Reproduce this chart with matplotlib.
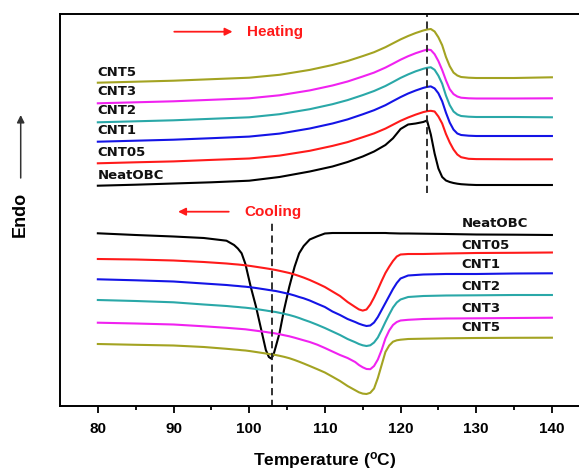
import matplotlib
matplotlib.use("Agg")
import matplotlib.pyplot as plt

plt.rcParams['font.family'] = ['Liberation Sans', 'DejaVu Sans']
plt.rcParams['mathtext.default'] = 'regular'

# ---------------- data (arbitrary heat-flow units, endo up) ----------------
T_heat = [80, 85, 90, 95, 100, 104, 108, 111, 113, 115, 116.5, 118, 119, 120, 121,
          122, 123, 123.5, 124, 124.5, 125, 125.5, 126, 126.5, 127, 127.5, 128, 129,
          130, 135, 140]

heat_neat = [221.3, 222.3, 223.5, 224.7, 226.3, 230, 235.5, 240.5, 245, 250.5, 255.5,
             262, 268.7, 278, 282.5, 283.5, 285, 286.5, 272.5, 253.5, 238.5, 230, 226.5,
             225, 224, 223.3, 222.8, 222.3, 222, 222, 222]
heat_cnt05 = [243.7, 244.7, 245.6, 247.1, 248.5, 251.4, 256.2, 261.1, 264.9, 269.8, 273.6,
              278.4, 282.3, 286.2, 289.5, 292.4, 294.9, 295.8, 296.2, 295.5, 290.5, 283.5,
              273, 264.5, 257.5, 252.5, 249.8, 248.2, 247.9, 247.7, 247.7]
heat_cnt1 = [265.3, 266.3, 267.3, 268.8, 270.4, 273.4, 278.5, 283.5, 287.6, 292.7, 296.8,
             301.8, 305.9, 309.9, 313.5, 316.5, 319.1, 320.1, 320.6, 318.6, 313.7, 305.7,
             294.3, 284.4, 277.4, 273.5, 272, 271.3, 271, 271, 271]
heat_cnt2 = [284.7, 285.7, 286.7, 288.2, 289.7, 292.8, 297.8, 302.8, 306.9, 311.9, 316,
             321, 325, 329.1, 332.6, 335.7, 338.2, 339.2, 339.7, 337.2, 331.3, 323.3,
             311.4, 301.9, 295.5, 292.5, 291, 290.3, 290, 290, 289.7]
heat_cnt3 = [303.7, 304.7, 305.7, 307.2, 308.7, 311.7, 316.6, 321.5, 325.5, 330.5, 334.4,
             339.4, 343.3, 347.3, 350.8, 353.8, 356.3, 357.4, 357, 352.8, 345.9, 337,
             326.7, 317.8, 312.9, 310.5, 309.3, 308.7, 308.5, 308.5, 308.7]
heat_cnt5 = [324.3, 325.3, 326.3, 327.8, 329.3, 332.2, 337.1, 342, 346, 350.9, 354.8,
             359.8, 363.7, 367.6, 371, 374, 376.5, 377.5, 378, 375.5, 369.7, 361.8,
             350, 340.8, 334.4, 331.5, 330, 329.3, 329, 329, 329.7]

T_cool = [80, 85, 90, 94, 97, 98, 98.5, 99, 99.5, 100.2, 100.9, 101.5, 102.2, 102.6,
          102.9, 103.2, 103.5, 104, 104.6, 105.3, 106, 106.6, 107.2, 108, 109, 110, 111,
          112, 113, 114, 114.5, 115, 115.5, 116, 116.5, 117, 117.5, 118, 118.5, 119,
          119.5, 120, 121, 123, 126, 130, 135, 140]

cool_neat = [173.7, 172, 170.5, 169, 166.3, 162, 158.5, 153.7, 143, 120.3, 100.3, 80.3,
             57, 50, 48.5, 52, 60, 73.7, 97, 120.3, 140.3, 153.7, 161, 167.5, 170.7,
             173.5, 174, 174, 174, 174, 174, 174, 174, 174, 174, 174, 174, 174, 173.8,
             173.7, 173.6, 173.5, 173.5, 173.3, 173, 172.5, 172.3, 172]
cool_cnt05 = [148, 147.5, 146.5, 145, 143.5, 142.8, 142.5, 142.1, 141.7, 141, 140.2, 139.5,
              138.7, 138.2, 137.8, 137.4, 137, 136.2, 135.2, 134, 132.5, 131, 129.4, 127,
              123.6, 120, 115.5, 111, 105, 100, 97.6, 96.4, 97.5, 102.5, 109.5, 117.5, 126,
              134, 140.3, 146, 150.5, 152.5, 153, 153, 153.5, 154, 154.2, 154.5]
cool_cnt1 = [127.7, 126.7, 125.5, 123.5, 122, 121.3, 121, 120.6, 120.3, 119.7, 119, 118.3,
             117.5, 117, 116.7, 116.3, 116, 115.2, 114.2, 113, 111.5, 110, 108.7, 106.5,
             103.2, 100, 95.5, 92, 88, 85, 83.3, 82, 81, 81.5, 84.5, 90, 97, 104, 111,
             118, 124, 128.5, 131.5, 132.5, 133, 133, 133.5, 133.7]
cool_cnt2 = [107, 106, 104.7, 102.5, 101, 100.3, 100, 99.6, 99.3, 98.7, 98, 97.3,
             96.5, 96, 95.7, 95.3, 95, 94.2, 93.2, 92, 90.5, 89, 87.3, 85.2,
             82.2, 79, 75.5, 72, 68, 64.8, 63, 61.7, 61, 61.7, 64.5, 69.5, 77, 85,
             92.5, 99.5, 104.5, 107.5, 110, 111, 111.5, 111.7, 112, 112]
cool_cnt3 = [84.3, 83.5, 82.5, 80.7, 79.2, 78.6, 78.3, 78, 77.7, 77, 76.3, 75.7,
             75, 74.5, 74.2, 73.9, 73.5, 72.8, 71.8, 70.7, 69.3, 68, 66.7, 65,
             62.3, 59, 55.5, 52, 49, 45, 42, 39.7, 38, 37.8, 41, 47.5, 57, 68.5,
             76.5, 82, 85, 86.5, 87.2, 88, 88.5, 88.7, 89, 89.3]
cool_cnt5 = [63, 62.2, 61.5, 60, 58.2, 57.5, 57.2, 56.8, 56.5, 55.8, 55, 54.3,
             53.5, 53, 52.7, 52.4, 52, 51.2, 50.2, 48.8, 47, 45.3, 43.5, 41,
             37.8, 34.5, 30.3, 26, 21, 16.8, 14.7, 13.4, 13, 14.2, 18.5, 29, 42, 55,
             61.5, 65.3, 66.7, 67.3, 68, 68.3, 68.7, 69, 69.2, 69.3]

sample_names = ['NeatOBC', 'CNT05', 'CNT1', 'CNT2', 'CNT3', 'CNT5']
colors = ['#000000', '#ff1a1a', '#1414e6', '#2aa8a8', '#f022f0', '#a3a322']

heat_series = [heat_neat, heat_cnt05, heat_cnt1, heat_cnt2, heat_cnt3, heat_cnt5]
cool_series = [cool_neat, cool_cnt05, cool_cnt1, cool_cnt2, cool_cnt3, cool_cnt5]

heat_label_y = [231.3, 254.7, 276.3, 297, 315.3, 335]
cool_label_y = [183.5, 161.5, 142, 120.5, 99, 79.5]

T_heat_peak = 123.5
T_cool_peak = 103
xticks = [80, 90, 100, 110, 120, 130, 140]

# ---------------- figure ----------------
fig = plt.figure(figsize=(5.79, 4.70), dpi=100)
ax = fig.add_axes([60 / 579, 64.5 / 470, 529.75 / 579, 391.5 / 470])

for ys, c in zip(heat_series, colors):
    ax.plot(T_heat, ys, color=c, lw=1.5, solid_joinstyle='round')
for ys, c in zip(cool_series, colors):
    ax.plot(T_cool, ys, color=c, lw=1.5, solid_joinstyle='round')

lab_font = dict(family=['DejaVu Sans'], fontsize=9.5, fontweight='bold', color='#111111')
for name, yl in zip(sample_names, heat_label_y):
    ax.text(80, yl, name, ha='left', va='center', **lab_font)
for name, yl in zip(sample_names, cool_label_y):
    ax.text(128.1, yl, name, ha='left', va='center', **lab_font)

# dashed peak markers
ax.plot([T_heat_peak, T_heat_peak], [214, 393], color='#222222', lw=1.3,
        ls=(0, (4, 2.5)))
ax.plot([T_cool_peak, T_cool_peak], [0, 187], color='#222222', lw=1.3,
        ls=(0, (4, 2.5)))

# heating / cooling arrows
ax.annotate('', xy=(97.8, 375.3), xytext=(90.1, 375.3),
            arrowprops=dict(arrowstyle='-|>', color='#ff1a1a', lw=1.3,
                            mutation_scale=11, shrinkA=0, shrinkB=0))
ax.text(99.7, 375.3, 'Heating', color='#ff1a1a', fontsize=11, fontweight='bold',
        ha='left', va='center')
ax.annotate('', xy=(90.6, 195.3), xytext=(97.3, 195.3),
            arrowprops=dict(arrowstyle='-|>', color='#ff1a1a', lw=1.3,
                            mutation_scale=11, shrinkA=0, shrinkB=0))
ax.text(99.4, 195.3, 'Cooling', color='#ff1a1a', fontsize=11, fontweight='bold',
        ha='left', va='center')

ax.set_xlim(75, 145)
ax.set_ylim(1.5, 393)
ax.set_xticks(xticks)
ax.set_xticks([85, 95, 105, 115, 125, 135, 145], minor=True)
ax.set_yticks([])
ax.tick_params(axis='x', which='major', direction='out', length=5, width=1.3,
               labelsize=11, pad=7)
ax.tick_params(axis='x', which='minor', direction='out', length=3, width=1.3)
for lab in ax.get_xticklabels():
    lab.set_fontweight('bold')
for s in ['left', 'top', 'bottom']:
    ax.spines[s].set_linewidth(1.4)
ax.spines['right'].set_visible(False)

ax.set_xlabel(r'Temperature ($^{o}$C)', fontsize=12.5, fontweight='bold', labelpad=10)

# Endo label with upward arrow
fig.text(20.7 / 579, 1 - 214 / 470, 'Endo', rotation=90, fontsize=13,
         fontweight='bold', ha='center', va='center')
fig.patches.append(matplotlib.patches.FancyArrowPatch(
    (20.7 / 579, 1 - 178 / 470), (20.7 / 579, 1 - 115 / 470),
    transform=fig.transFigure, arrowstyle='-|>', mutation_scale=11,
    color='#333333', lw=1.1, shrinkA=0, shrinkB=0))

fig.savefig('out.png', dpi=100)
